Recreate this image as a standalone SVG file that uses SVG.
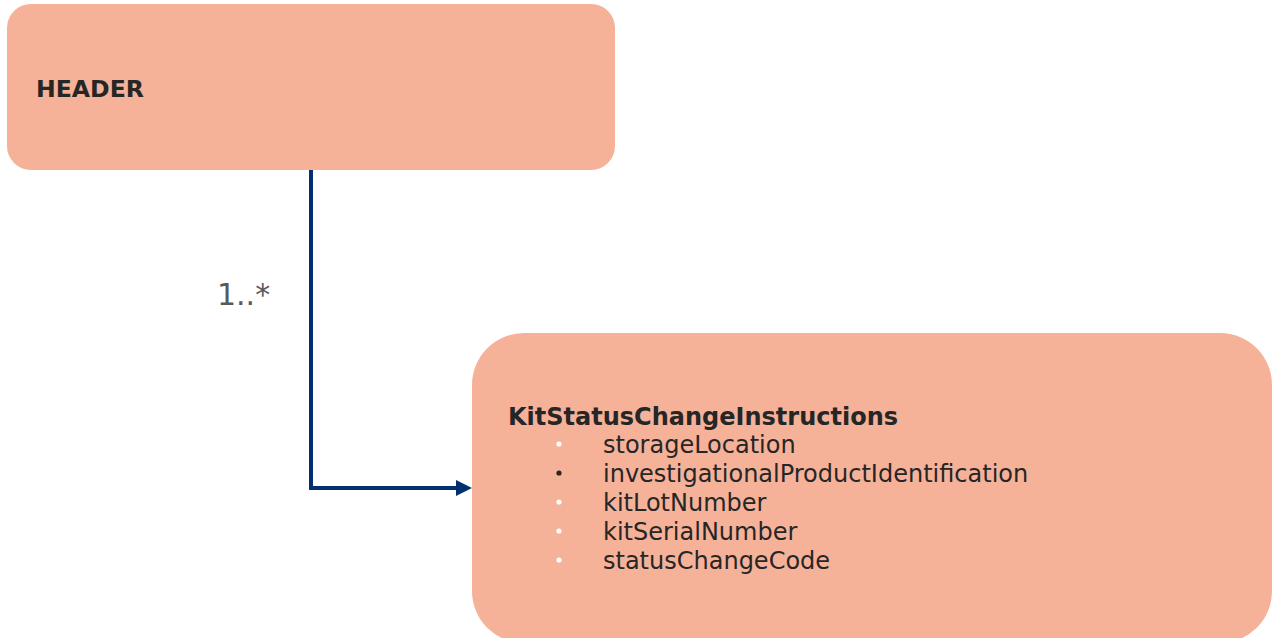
<svg xmlns="http://www.w3.org/2000/svg" width="1276" height="638" viewBox="0 0 1276 638">
<style>
.box{fill:#F6B199;}
.t{font-family:"DejaVu Sans",Verdana,sans-serif;fill:#262626;}
.b{font-weight:bold;}
.item{font-size:24px;}
.conn{fill:none;stroke:#00306E;stroke-width:4;}
</style>
<rect width="1276" height="638" fill="#FFFFFF"/>
<g id="header">
<rect class="box" x="7" y="4" width="608" height="166" rx="24"/>
<text class="t b" x="36" y="97" font-size="23.6">HEADER</text>
</g>
<g id="kit">
<rect class="box" x="472" y="333" width="800" height="310" rx="52"/>
<text class="t b" x="508" y="425" font-size="24">KitStatusChangeInstructions</text>
<g class="t item">
<circle cx="559" cy="444" r="2.6" fill="#FFFFFF"/>
<text x="603" y="453">storageLocation</text>
<circle cx="559" cy="473" r="2.6" fill="#262626"/>
<text x="603" y="482">investigationalProductIdentification</text>
<circle cx="559" cy="502" r="2.6" fill="#FFFFFF"/>
<text x="603" y="511">kitLotNumber</text>
<circle cx="559" cy="531" r="2.6" fill="#FFFFFF"/>
<text x="603" y="540">kitSerialNumber</text>
<circle cx="559" cy="560" r="2.6" fill="#FFFFFF"/>
<text x="603" y="569">statusChangeCode</text>
</g>
</g>
<g id="connectors">
<path class="conn" d="M311,170 V488 H458"/>
<polygon points="456,480 472,488 456,496" fill="#00306E"/>
<text x="217" y="305" font-family="DejaVu Sans,Verdana,sans-serif" font-size="30" fill="#595959">1..*</text>
</g>
</svg>
